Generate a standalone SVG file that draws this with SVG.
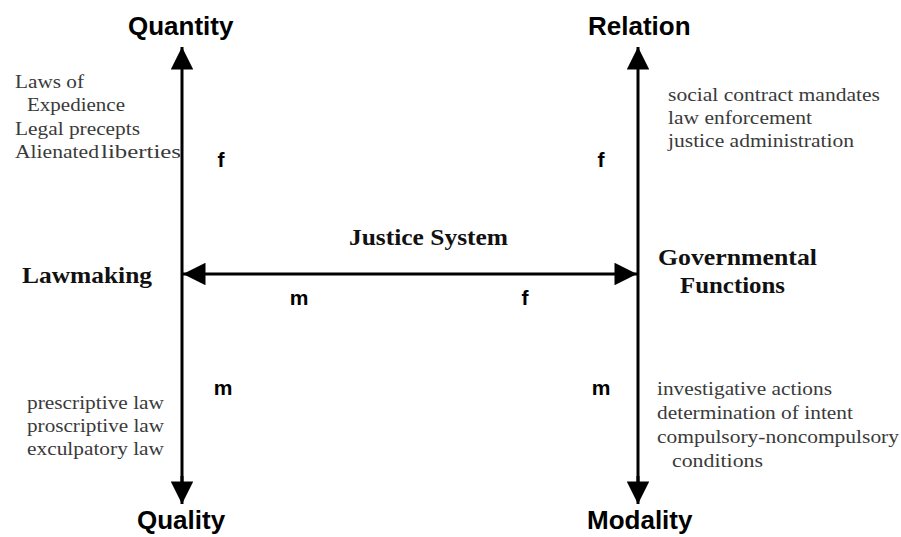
<svg xmlns="http://www.w3.org/2000/svg" width="901" height="537" viewBox="0 0 901 537">
<style>
.ax{font-family:"Liberation Sans",Arial,sans-serif;font-weight:bold;font-size:26px;fill:#000}
.lt{font-family:"Liberation Sans",Arial,sans-serif;font-weight:bold;font-size:21px;fill:#000}
.sr{font-family:"Liberation Serif","Times New Roman",serif;font-size:18.5px;fill:#3a3a3a}
.bd{font-family:"Liberation Serif","Times New Roman",serif;font-weight:bold;font-size:24px;fill:#111}
.ln{stroke:#000;stroke-width:3;fill:none}
</style>
<defs>
<marker id="ah" viewBox="0 0 10 10" refX="10" refY="5" markerWidth="9.5" markerHeight="7.5" markerUnits="strokeWidth" orient="auto-start-reverse">
<path d="M0,0 L10,5 L0,10 z" fill="#000"/>
</marker>
</defs>
<rect width="901" height="537" fill="#fff"/>
<g id="connectors">
<line class="ln" x1="182" y1="500" x2="182" y2="47" marker-end="url(#ah)"/>
<line class="ln" x1="182" y1="476" x2="182" y2="504" marker-end="url(#ah)"/>
<line class="ln" x1="638" y1="500" x2="638" y2="47" marker-end="url(#ah)"/>
<line class="ln" x1="638" y1="476" x2="638" y2="504" marker-end="url(#ah)"/>
<line class="ln" x1="183" y1="274" x2="637" y2="274" marker-start="url(#ah)" marker-end="url(#ah)"/>
</g>
<g id="quantity"><text class="ax" x="128" y="35">Quantity</text></g>
<g id="quality"><text class="ax" x="137" y="529">Quality</text></g>
<g id="relation"><text class="ax" x="588" y="35">Relation</text></g>
<g id="modality"><text class="ax" x="587" y="529">Modality</text></g>
<g id="quantity-notes">
<text class="sr" x="15" y="88" textLength="69" lengthAdjust="spacingAndGlyphs">Laws of</text>
<text class="sr" x="27" y="111" textLength="98" lengthAdjust="spacingAndGlyphs">Expedience</text>
<text class="sr" x="15" y="135" textLength="125" lengthAdjust="spacingAndGlyphs">Legal precepts</text>
<text class="sr" x="15" y="158" textLength="84" lengthAdjust="spacingAndGlyphs">Alienated</text>
<text class="sr" x="101" y="158" font-size="22px" textLength="80" lengthAdjust="spacingAndGlyphs">liberties</text>
</g>
<g id="relation-notes">
<text class="sr" x="668" y="101" textLength="212" lengthAdjust="spacingAndGlyphs">social contract mandates</text>
<text class="sr" x="668" y="124" textLength="144" lengthAdjust="spacingAndGlyphs">law enforcement</text>
<text class="sr" x="668" y="147" textLength="186" lengthAdjust="spacingAndGlyphs">justice administration</text>
</g>
<g id="quality-notes">
<text class="sr" x="27" y="409" textLength="137" lengthAdjust="spacingAndGlyphs">prescriptive law</text>
<text class="sr" x="27" y="432" textLength="137" lengthAdjust="spacingAndGlyphs">proscriptive law</text>
<text class="sr" x="27" y="455" textLength="137" lengthAdjust="spacingAndGlyphs">exculpatory law</text>
</g>
<g id="modality-notes">
<text class="sr" x="657" y="395" textLength="175" lengthAdjust="spacingAndGlyphs">investigative actions</text>
<text class="sr" x="657" y="419" textLength="196" lengthAdjust="spacingAndGlyphs">determination of intent</text>
<text class="sr" x="657" y="443" textLength="242" lengthAdjust="spacingAndGlyphs">compulsory-noncompulsory</text>
<text class="sr" x="672" y="467" textLength="91" lengthAdjust="spacingAndGlyphs">conditions</text>
</g>
<g id="lawmaking"><text class="bd" x="22" y="283" textLength="130" lengthAdjust="spacingAndGlyphs">Lawmaking</text></g>
<g id="justice-system"><text class="bd" x="349" y="245" textLength="159" lengthAdjust="spacingAndGlyphs">Justice System</text></g>
<g id="governmental-functions">
<text class="bd" x="658" y="265" textLength="159" lengthAdjust="spacingAndGlyphs">Governmental</text>
<text class="bd" x="680" y="293" textLength="105" lengthAdjust="spacingAndGlyphs">Functions</text>
</g>
<g id="labels">
<text class="lt" x="221" y="167" text-anchor="middle">f</text>
<text class="lt" x="601" y="167" text-anchor="middle">f</text>
<text class="lt" x="223" y="395" text-anchor="middle">m</text>
<text class="lt" x="601" y="395" text-anchor="middle">m</text>
<text class="lt" x="299" y="305" text-anchor="middle">m</text>
<text class="lt" x="525" y="305" text-anchor="middle">f</text>
</g>
</svg>
